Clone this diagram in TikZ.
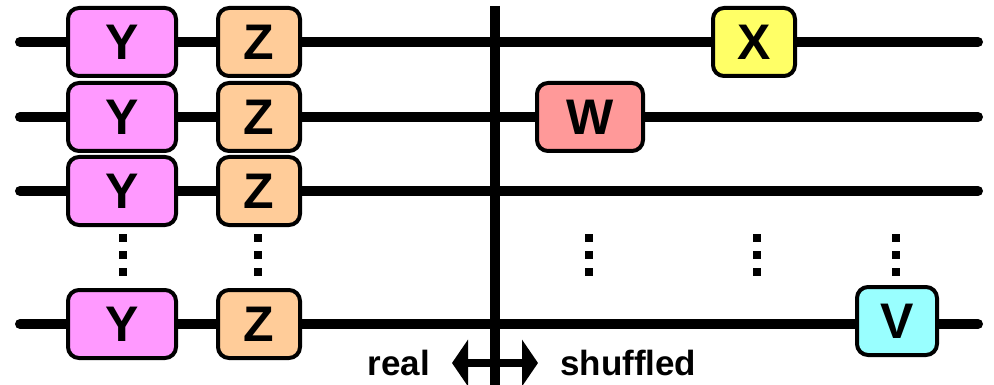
\documentclass[tikz,border=0pt]{standalone}
\usepackage{fontspec}
\setmainfont{Liberation Sans}
\usetikzlibrary{positioning,arrows.meta}
\definecolor{ypink}{HTML}{FF99FF}
\definecolor{zpeach}{HTML}{FFCC99}
\definecolor{xyellow}{HTML}{FFFF66}
\definecolor{wred}{HTML}{FF9999}
\definecolor{vcyan}{HTML}{99FFFF}
\tikzset{%
wire/.style={line width=10pt,line cap=round},
gate/.style={draw,line width=4pt,rounded corners=11pt,minimum height=68pt,inner sep=0pt,
  font=\fontsize{50}{50}\selectfont\bfseries},
widegate/.style={gate,minimum width=108pt},
narrowgate/.style={gate,minimum width=82pt},
ellipsis/.style={line width=8pt,dash pattern=on 8pt off 9pt},
sidelabel/.style={font=\fontsize{35}{35}\selectfont\bfseries,inner sep=0pt}
}

\begin{document}
\begin{tikzpicture}[x=1pt,y=-1pt]
    \useasboundingbox (0,0) rectangle (994,385);

    % wire ends
    \foreach \n/\y in {1/42,2/117,3/191,4/324}
    {
    \coordinate (in\n)  at (20,\y);
    \coordinate (out\n) at (978,\y);
    \draw[wire] (in\n) -- (out\n);
    }

    % real side
    \foreach \n/\y in {1/42,2/117,3/191,4/324}
    {
    \node[widegate,fill=ypink]     (y\n) at (122,\y) {Y};
    \node[narrowgate,fill=zpeach]  (z\n) at (259,\y) {Z};
    }

    % shuffled side
    \node[narrowgate,fill=xyellow]                 (x) at (754,42)  {X};
    \node[widegate,minimum width=106pt,fill=wred]  (w) at (590,117) {W};
    \node[narrowgate,minimum width=80pt,fill=vcyan] (v) at (897,321) {V};

    % dots between rows
    \foreach \name/\x in {ydots/123,zdots/258,adots/589,bdots/757,cdots/896}
    {
    \coordinate (\name top) at (\x,234);
    \coordinate (\name bot) at (\x,277);
    \draw[ellipsis] (\name top) -- (\name bot);
    }

    % divider
    \coordinate (bartop) at (495,6);
    \coordinate (barbot) at (495,385);
    \draw[line width=10pt] (bartop) -- (barbot);

    \coordinate (arrl) at (452,363);
    \coordinate (arrr) at (538,363);
    \draw[line width=8pt,{Triangle[width=46pt,length=16pt]}-{Triangle[width=46pt,length=16pt]}] (arrl) -- (arrr);

    \node[sidelabel] (real)     [left=22pt of arrl]  {real};
    \node[sidelabel] (shuffled) [right=22pt of arrr] {shuffled};

  \end{tikzpicture}
\end{document}
